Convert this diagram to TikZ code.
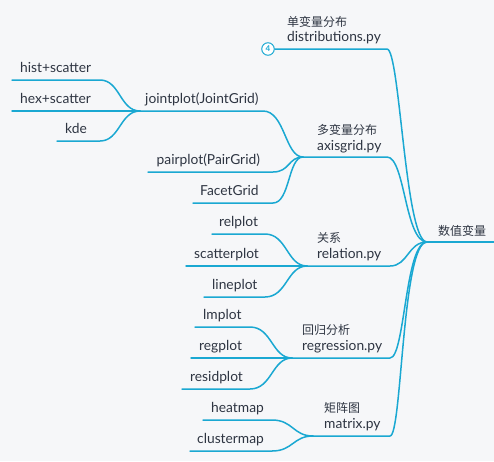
\documentclass[tikz,border=0pt]{standalone}
\usepackage{fontspec}
\setmainfont{Lato}
\newfontfamily\cjk{Noto Sans CJK SC}
\definecolor{bg}{HTML}{F6F7F9}
\definecolor{ln}{HTML}{1AA8D2}
\definecolor{tx}{HTML}{2E3542}
\begin{document}
\begin{tikzpicture}[x=1pt,y=-1pt,
  lbl/.style={anchor=base west, inner sep=0pt, text=tx, font=\fontsize{13.8}{15}\selectfont},
  clbl/.style={anchor=base west, inner sep=0pt, text=tx, font=\fontsize{12}{15}\selectfont\cjk},
  conn/.style={draw=ln, line width=1.5pt, line cap=round},
  badge/.style={circle, draw=ln, fill=white, line width=1pt, minimum size=12.5pt, inner sep=0pt, text=ln, font=\fontsize{8}{8}\selectfont\bfseries}]
\fill[bg] (0,0) rectangle (494,461);
\useasboundingbox (0,0) rectangle (494,461);

% root
\node[clbl] (root) at (438,235) {数值变量};
\coordinate (rootJ) at (427,242);
\coordinate (rootE) at (494,242);
\draw[conn] (rootJ) -- (rootE);

% branch 1
\node[clbl] (b1c) at (287,26) {单变量分布};
\node[lbl] (b1) at (287,41) {distributions.py};
\node[badge] (c4) at (268,49) {4};
\coordinate (b1e) at (387,49);
\draw[conn] (c4.east) -- (b1e) .. controls (400,49) and (405,242) .. (rootJ);

% branch 2
\node[clbl] (b2c) at (317,134.5) {多变量分布};
\node[lbl] (b2) at (317,150) {axisgrid.py};
\coordinate (b2J) at (303,157);
\coordinate (b2e) at (387,157);
\draw[conn] (b2J) -- (b2e) .. controls (405,157) and (405,242) .. (rootJ);

% branch 3
\node[clbl] (b3c) at (317,242.5) {关系};
\node[lbl] (b3) at (317,258) {relation.py};
\coordinate (b3J) at (307,266);
\coordinate (b3e) at (390,266);
\draw[conn] (b3J) -- (b3e) .. controls (408,266) and (408,242) .. (rootJ);

% branch 4
\node[clbl] (b4c) at (302,334.5) {回归分析};
\node[lbl] (b4) at (302,350) {regression.py};
\coordinate (b4J) at (292,358);
\coordinate (b4e) at (390,358);
\draw[conn] (b4J) -- (b4e) .. controls (405,358) and (405,242) .. (rootJ);

% branch 5
\node[clbl] (b5c) at (324,412.5) {矩阵图};
\node[lbl] (b5) at (324,428) {matrix.py};
\coordinate (b5J) at (313,436);
\coordinate (b5e) at (390,436);
\draw[conn] (b5J) -- (b5e) .. controls (402,436) and (402,242) .. (rootJ);

% axisgrid children
\node[lbl] (jp) at (145,103.5) {jointplot(JointGrid)};
\coordinate (jpJ) at (140,111);
\coordinate (jpR) at (263,111);
\draw[conn] (jpJ) -- (jpR) .. controls (285,111) and (285,157) .. (b2J);

\node[lbl] (pp) at (156.5,164.5) {pairplot(PairGrid)};
\coordinate (ppL) at (148,172);
\coordinate (ppR) at (273,172);
\draw[conn] (ppL) -- (ppR) .. controls (290,172) and (288,157) .. (b2J);

\node[lbl] (fg) at (200,195.5) {FacetGrid};
\coordinate (fgL) at (193,203);
\coordinate (fgR) at (273,203);
\draw[conn] (fgL) -- (fgR) .. controls (290,203) and (288,157) .. (b2J);

% jointplot children
\node[lbl] (hs) at (20,72.5) {hist+scatter};
\coordinate (hsL) at (12,80);
\coordinate (hsR) at (100,80);
\draw[conn] (hsL) -- (hsR) .. controls (120,80) and (120,111) .. (jpJ);

\node[lbl] (xs) at (20,103.5) {hex+scatter};
\coordinate (xsL) at (12,111);
\draw[conn] (xsL) -- (jpJ);

\node[lbl] (kd) at (65,133.5) {kde};
\coordinate (kdL) at (57,141);
\coordinate (kdR) at (100,141);
\draw[conn] (kdL) -- (kdR) .. controls (120,141) and (120,111) .. (jpJ);

% relation children
\node[lbl] (rp) at (219,226.5) {relplot};
\coordinate (rpL) at (212,234);
\coordinate (rpR) at (265,234);
\draw[conn] (rpL) -- (rpR) .. controls (287,234) and (287,266) .. (b3J);

\node[lbl] (sp) at (194,258.5) {scatterplot};
\coordinate (spL) at (186,266);
\draw[conn] (spL) -- (b3J);

\node[lbl] (lp) at (212,289.5) {lineplot};
\coordinate (lpL) at (204,297);
\coordinate (lpR) at (265,297);
\draw[conn] (lpL) -- (lpR) .. controls (287,297) and (287,266) .. (b3J);

% regression children
\node[lbl] (lm) at (203,319.5) {lmplot};
\coordinate (lmL) at (195,327);
\coordinate (lmR) at (250,327);
\draw[conn] (lmL) -- (lmR) .. controls (272,327) and (272,358) .. (b4J);

\node[lbl] (rg) at (199,350.5) {regplot};
\coordinate (rgL) at (191,358);
\draw[conn] (rgL) -- (b4J);

\node[lbl] (rs) at (190,381.5) {residplot};
\coordinate (rsL) at (182,389);
\coordinate (rsR) at (250,389);
\draw[conn] (rsL) -- (rsR) .. controls (272,389) and (272,358) .. (b4J);

% matrix children
\node[lbl] (hm) at (211,412.5) {heatmap};
\coordinate (hmL) at (203,420);
\coordinate (hmR) at (272,420);
\draw[conn] (hmL) -- (hmR) .. controls (293,420) and (293,436) .. (b5J);

\node[lbl] (cm) at (197,443.5) {clustermap};
\coordinate (cmL) at (190,451);
\coordinate (cmR) at (272,451);
\draw[conn] (cmL) -- (cmR) .. controls (293,451) and (293,436) .. (b5J);
\end{tikzpicture}
\end{document}
